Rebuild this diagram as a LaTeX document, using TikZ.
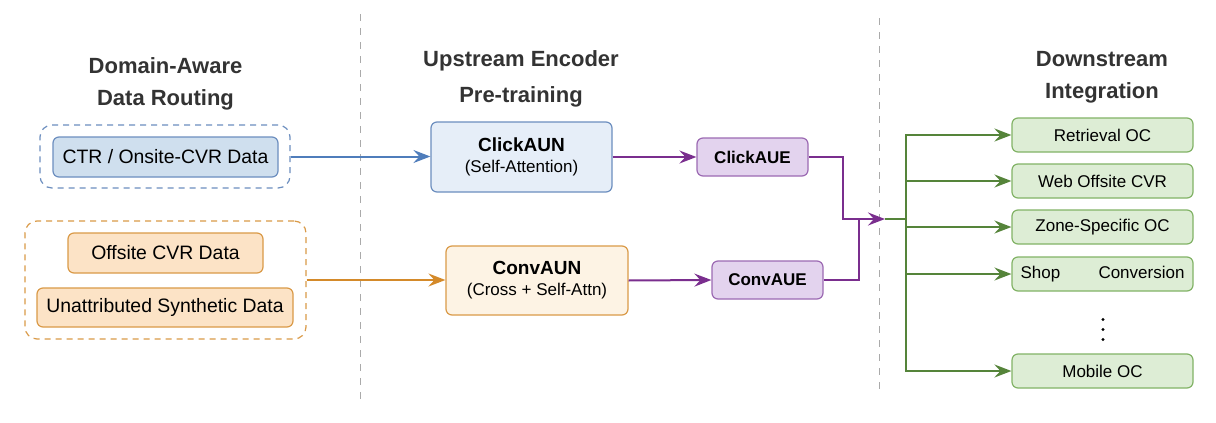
\documentclass[tikz,border=0pt]{standalone}
\usepackage{fontspec}
\setmainfont{Liberation Sans}
\usetikzlibrary{arrows.meta}
\definecolor{bluestroke}{HTML}{6C8EBF}
\definecolor{bluefillA}{HTML}{CFDFEE}
\definecolor{bluefillB}{HTML}{E6EEF8}
\definecolor{bluearrow}{HTML}{4F7DBB}
\definecolor{orstroke}{HTML}{DA9A48}
\definecolor{orfillA}{HTML}{FCE3C6}
\definecolor{orfillB}{HTML}{FDF3E4}
\definecolor{orarrow}{HTML}{D48A2A}
\definecolor{pustroke}{HTML}{9C6AB3}
\definecolor{pufill}{HTML}{E3D3EE}
\definecolor{puarrow}{HTML}{7A2E8E}
\definecolor{grstroke}{HTML}{82B366}
\definecolor{grfill}{HTML}{DDEDD5}
\definecolor{grarrow}{HTML}{55843A}
\definecolor{titlecol}{HTML}{333333}
\definecolor{divcol}{HTML}{AAAAAA}
\tikzset{
  box/.style={draw, rounded corners=6pt, line width=1.2pt, inner sep=0pt, align=center, text=black},
  cont/.style={draw, rounded corners=12pt, line width=1.2pt, dash pattern=on 6pt off 5pt},
  ttl/.style={font=\fontsize{22}{26}\selectfont\bfseries, text=titlecol, anchor=base, inner sep=0pt},
  body/.style={font=\fontsize{17}{20}\selectfont},
  big/.style={font=\fontsize{19.4}{22}\selectfont},
  arr/.style={line width=2pt, -{Stealth[length=17pt,width=13pt,inset=6pt]}},
  ln/.style={line width=2pt},
  divider/.style={draw=divcol, line width=1pt, dash pattern=on 7pt off 7pt}
}
\begin{document}
\begin{tikzpicture}[x=1pt,y=-1pt]
\useasboundingbox (0,0) rectangle (1216,423);
\fill[white] (0,0) rectangle (1216,423);

% dividers
\coordinate (d1t) at (360,14); \coordinate (d1b) at (360,400);
\coordinate (d2t) at (879,18); \coordinate (d2b) at (879,393);
\draw[divider] (d1t) -- (d1b);
\draw[divider] (d2t) -- (d2b);

% titles
\node[ttl] (t1a) at (165.5,73) {Domain-Aware};
\node[ttl] (t1b) at (165.5,105) {Data Routing};
\node[ttl] (t2a) at (521,66) {Upstream Encoder};
\node[ttl] (t2b) at (521,102) {Pre-training};
\node[ttl] (t3a) at (1102,66) {Downstream};
\node[ttl] (t3b) at (1102,98) {Integration};

% containers
\node[cont, draw=bluestroke, minimum width=250pt, minimum height=63pt] (cblue) at (165,156.5) {};
\node[cont, draw=orstroke, minimum width=281pt, minimum height=118pt] (cor) at (165.5,280) {};

% data boxes
\node[box, big, draw=bluestroke, fill=bluefillA, minimum width=225pt, minimum height=40pt] (ctr) at (165.5,157) {CTR / Onsite-CVR Data};
\node[box, big, draw=orstroke, fill=orfillA, minimum width=195pt, minimum height=40pt] (off) at (165.5,253) {Offsite CVR Data};
\node[box, big, draw=orstroke, fill=orfillA, minimum width=256pt, minimum height=39pt] (una) at (165,307.5) {Unattributed Synthetic Data};

% encoders
\node[box, draw=bluestroke, fill=bluefillB, minimum width=181pt, minimum height=70pt, font=\fontsize{17}{21}\selectfont] (caun) at (521.5,157)
  {{\fontsize{19}{21}\selectfont\bfseries ClickAUN}\\(Self-Attention)};
\node[box, draw=orstroke, fill=orfillB, minimum width=182pt, minimum height=69pt, font=\fontsize{17}{21}\selectfont] (vaun) at (537,280.5)
  {{\fontsize{19}{21}\selectfont\bfseries ConvAUN}\\(Cross + Self-Attn)};

% embeddings
\node[box, draw=pustroke, fill=pufill, minimum width=111pt, minimum height=38pt, font=\fontsize{17}{20}\selectfont\bfseries] (caue) at (752.5,157) {ClickAUE};
\node[box, draw=pustroke, fill=pufill, minimum width=111pt, minimum height=38pt, font=\fontsize{17}{20}\selectfont\bfseries] (vaue) at (767.5,280) {ConvAUE};

% downstream boxes
\tikzset{gbox/.style={box, body, draw=grstroke, fill=grfill, minimum width=181pt, minimum height=34pt}}
\node[gbox] (r1) at (1102.5,135) {Retrieval OC};
\node[gbox] (r2) at (1102.5,181) {Web Offsite CVR};
\node[gbox] (r3) at (1102.5,227) {Zone-Specific OC};
\node[gbox] (r4) at (1102.5,274) {\makebox[164pt]{Shop\hfill Conversion}};
\node[gbox] (r5) at (1102.5,371) {Mobile OC};
\fill (1103,319.5) circle (1.6pt);
\fill (1103,329.5) circle (1.6pt);
\fill (1103,339.5) circle (1.6pt);

% input arrows
\draw[arr, bluearrow] (cblue.east) -- (cblue.east -| caun.west);
\draw[arr, orarrow] (cor.east) -- (cor.east -| vaun.west);
\draw[arr, puarrow] (caun.east) -- (caue.west);
\draw[arr, puarrow] (vaun.east) -- (vaue.west);

% merge
\coordinate (mtip) at (885,219);
\coordinate (trunk) at (906,219);
\draw[arr, puarrow] (caue.east) -- (843,157) -- (843,219) -- (mtip);
\draw[ln, puarrow] (vaue.east) -- (859,280) -- (859,219);

% fan-out
\draw[ln, grarrow] (mtip) -- (trunk);
\draw[ln, grarrow] (906,134) -- (906,372);
\foreach \n in {r1,r2,r3,r4,r5}{
  \draw[arr, grarrow] (trunk |- \n.west) -- (\n.west);
}
\end{tikzpicture}
\end{document}
